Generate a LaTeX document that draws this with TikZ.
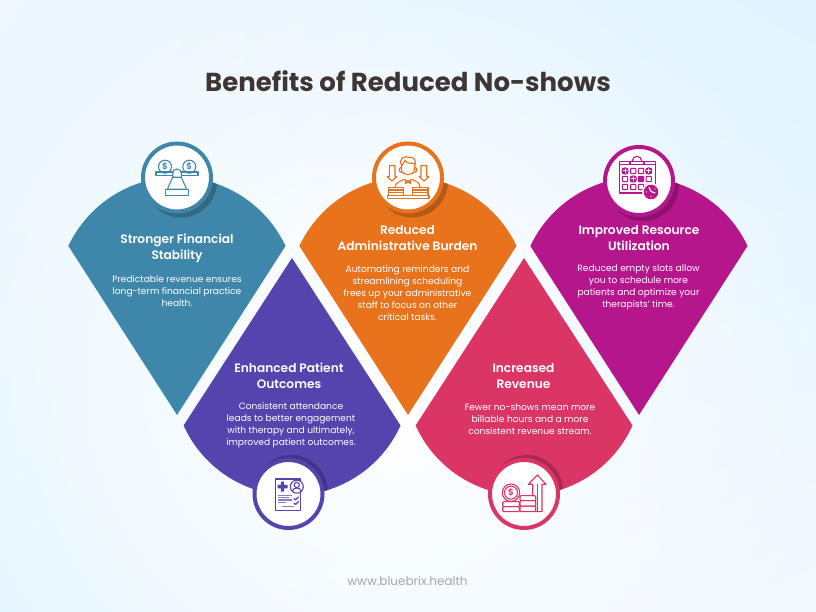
\documentclass[tikz,border=0pt]{standalone}
\usepackage{fontspec}
\usetikzlibrary{shadings,fadings}
\setmainfont{Poppins}[BoldFont={Poppins SemiBold}]
\newfontfamily\titlefont{Poppins}
\definecolor{tealblue}{HTML}{3F86AB}
\definecolor{carrot}{HTML}{E8731C}
\definecolor{indigo}{HTML}{5544AD}
\definecolor{rosered}{HTML}{DB3566}
\definecolor{plum}{HTML}{B6168C}
\definecolor{titlegrey}{HTML}{3F3535}
\definecolor{bgupleft}{HTML}{EEF8FE}
\definecolor{bgupright}{HTML}{DFF3FF}
\definecolor{bglowleft}{HTML}{E5F6FF}
\definecolor{bglowright}{HTML}{F3FAFF}
\tikzfading[name=softglow,inner color=transparent!0,outer color=transparent!100]
\newcommand{\toppetal}[1]{(#1,197) -- ++(108.5,169) arc[start angle=25.2,end angle=154.8,radius=120] -- cycle}
\newcommand{\lowpetal}[1]{(#1,354) -- ++(108.5,-167.5) arc[start angle=-24.3,end angle=-155.7,radius=119] -- cycle}
\tikzset{
  petalhead/.style={text=white,align=center,font=\bfseries\fontsize{12.2}{16}\selectfont},
  petalbody/.style={text=white,align=center,font=\fontsize{9.1}{12}\selectfont},
  badge/.style={circle,draw=#1,fill=white,line width=4pt,minimum size=68pt,inner sep=0pt},
  iconline/.style={line width=1.1pt,line join=round,line cap=round},
  coinmark/.style={inner sep=0pt,font=\bfseries\fontsize{8.8}{9}\selectfont}
}
\begin{document}
\begin{tikzpicture}[x=1pt,y=1pt]
  \useasboundingbox (0,0) rectangle (816,612);
  \shade[upper left=bgupleft,upper right=bgupright,lower left=bglowleft,lower right=bglowright] (0,0) rectangle (816,612);
  \fill[white,path fading=softglow] (380,230) circle[radius=470];

  \node[text=titlegrey,font=\titlefont\bfseries\fontsize{26}{30}\selectfont] (title) at (408,531) {Benefits of Reduced No-shows};
  \node[text=black!35,font=\fontsize{12}{14}\selectfont] (site) at (407.5,31) {www.bluebrix.health};

  % petals
  \fill[tealblue] \toppetal{177};
  \fill[carrot] \toppetal{408};
  \fill[plum] \toppetal{639};
  \fill[indigo] \lowpetal{292};
  \fill[rosered] \lowpetal{524};

  % shadows under the badges
  \begin{scope}
    \clip \toppetal{177};
    \fill[tealblue!78!black] (181,430.5) circle[radius=36];
  \end{scope}
  \begin{scope}
    \clip \toppetal{408};
    \fill[carrot!78!black] (412,430.5) circle[radius=36];
  \end{scope}
  \begin{scope}
    \clip \toppetal{639};
    \fill[plum!78!black] (643,427) circle[radius=36];
  \end{scope}
  \begin{scope}
    \clip \lowpetal{292};
    \fill[indigo!78!black] (291.5,121) circle[radius=36];
  \end{scope}
  \begin{scope}
    \clip \lowpetal{524};
    \fill[rosered!78!black] (527,121) circle[radius=36];
  \end{scope}

  % badges
  \node[badge=tealblue] (scalebadge) at (177,434.5) {};
  \node[badge=carrot] (staffbadge) at (408,434.5) {};
  \node[badge=plum] (calendarbadge) at (639,431) {};
  \node[badge=indigo] (chartbadge) at (288.5,118) {};
  \node[badge=rosered] (moneybadge) at (524,118) {};

  % texts
  \node[petalhead] (stabilityhead) at (177,363.2) {Stronger Financial\\Stability};
  \node[petalbody] (stabilitybody) at (177,321) {Predictable revenue ensures\\long-term financial practice\\health.};
  \node[petalhead] (burdenhead) at (407.5,374) {Reduced\\Administrative Burden};
  \node[petalbody] (burdenbody) at (407.5,319) {Automating reminders and\\streamlining scheduling\\frees up your administrative\\staff to focus on other\\critical tasks.};
  \node[petalhead] (resourcehead) at (639,374) {Improved Resource\\Utilization};
  \node[petalbody] (resourcebody) at (638.5,325) {Reduced empty slots allow\\you to schedule more\\patients and optimize your\\therapists' time.};
  \node[petalhead] (outcomehead) at (289,236) {Enhanced Patient\\Outcomes};
  \node[petalbody] (outcomebody) at (291,187) {Consistent attendance\\leads to better engagement\\with therapy and ultimately,\\improved patient outcomes.};
  \node[petalhead] (revenuehead) at (523.5,236) {Increased\\Revenue};
  \node[petalbody] (revenuebody) at (530,193) {Fewer no-shows mean more\\billable hours and a more\\consistent revenue stream.};

  % scale icon
  \begin{scope}[shift={(177,434.5)},draw=tealblue,text=tealblue,iconline]
    \draw (-12,10.8) circle[radius=6.5];
    \draw (12.3,10.8) circle[radius=6.5];
    \node[coinmark] (leftcoin) at (-12,10.8) {\$};
    \node[coinmark] (rightcoin) at (12.3,10.8) {\$};
    \draw (-21,1.8) rectangle (21,5.5);
    \draw[fill=white] (-4.3,0.2) -- (-4.3,4.2) arc[start angle=180,end angle=0,radius=4.3] -- (4.3,0.2) -- cycle;
    \draw (-4.3,0.2) -- (-9.7,-11.8) -- (9.7,-11.8) -- (4.3,0.2);
    \draw (-11.7,-18.2) rectangle (11.7,-11.8);
  \end{scope}

  % staff icon
  \begin{scope}[shift={(408,434.5)},draw=carrot,iconline]
    \draw (-18.7,12) -- (-13,12) -- (-13,1) -- (-11,1) -- (-16,-3.5) -- (-21,1) -- (-18.7,1) -- cycle;
    \draw (13,12) -- (18.7,12) -- (18.7,1) -- (21,1) -- (16,-3.5) -- (11,1) -- (13,1) -- cycle;
    \draw (-6.5,8) .. controls (-6,1) and (6,1) .. (6.5,8) -- (6.5,14) .. controls (3,14) and (-1,14) .. (-3,17) .. controls (-4,14) and (-6,13) .. (-6.5,11) -- cycle;
    \draw (-6.5,12) .. controls (-10,20) and (-2,22) .. (1,20) .. controls (6,21) and (9,17) .. (6.5,11);
    \draw (-7,10) -- (-8.5,9) -- (-8.5,6) -- (-6.5,5);
    \draw (7,10) -- (8.5,9) -- (8.5,6) -- (6.5,5);
    \draw (-13,-9.7) .. controls (-13,-5) and (-8,-4) .. (-4,-2) -- (0,-4) -- (4,-2) .. controls (8,-4) and (12,-5) .. (12,-9.7);
    \draw (-2.5,-2.5) -- (0,-4.5) -- (2.5,-2.5) -- (2.5,-6) -- (0,-4.5) -- (-2.5,-6) -- cycle;
    \draw (-19.7,-9.7) rectangle (-4.7,-18);
    \draw (-19.7,-12.5) -- (-4.7,-12.5);
    \draw (-19.7,-15.2) -- (-4.7,-15.2);
    \draw (4.7,-9.7) rectangle (20,-18);
    \draw (4.7,-12.5) -- (20,-12.5);
    \draw (4.7,-15.2) -- (20,-15.2);
    \draw (-20.7,-18) rectangle (21,-21);
  \end{scope}

  % calendar icon
  \begin{scope}[shift={(639,431)},draw=plum,iconline]
    \draw (-19.7,19.7) rectangle (16.3,-12);
    \draw (-19.7,16.5) -- (16.3,16.5);
    \draw[fill=white] (-9,16.3) rectangle (5,19.7);
    \draw (-7,19.7) -- (-5,23.5) .. controls (-3,25) and (-1,25) .. (1,23.5) -- (3,19.7);
    \foreach \cellx in {-14,-5.7,2,9.7}
      \foreach \celly in {10,2,-6}
        \draw[rounded corners=0.6pt] (\cellx-2.6,\celly-2.6) rectangle (\cellx+2.6,\celly+2.6);
    \foreach \cellx/\celly in {-14/10,9.7/10,-5.7/2}
      {
        \fill[plum] (\cellx,\celly) circle[radius=3.6];
        \draw[white,line width=1pt] (\cellx-2,\celly) -- (\cellx+2,\celly) (\cellx,\celly-2) -- (\cellx,\celly+2);
      }
    \fill[plum] (2,2) circle[radius=2.6];
    \fill[white] (12,-11) circle[radius=9];
    \fill[plum] (12,-11) circle[radius=7.3];
    \draw[white] (10,-6.5) -- (12,-10.5) -- (16,-12);
    \fill[white] (7.5,-11) circle[radius=0.7] (12,-15.5) circle[radius=0.7] (16,-8) circle[radius=0.7];
  \end{scope}

  % chart icon
  \begin{scope}[shift={(288.5,118)},draw=indigo,iconline]
    \draw (-13,15) rectangle (11.7,-16.7);
    \fill[indigo] (-11,5.6) rectangle (-1,9) (-7.7,2.3) rectangle (-4.3,12.3);
    \draw[fill=white] (8.3,7.3) circle[radius=6.5];
    \draw (8.3,9) circle[radius=2.6];
    \draw (4,3) .. controls (4.5,7) and (12,7) .. (12.6,3);
    \draw[line width=1.1pt,indigo!70] (-10,-1.7) -- (3.3,-1.7) (-10,-3.7) -- (0,-3.7) (-10,-6) -- (3.3,-6) (-10,-8.7) -- (-3,-8.7) (-6,-12.7) -- (5,-12.7);
    \draw (5.5,-4.5) -- (7,-6) -- (10,-3);
    \draw (5.5,-9) -- (7,-10.5) -- (10,-7.5);
  \end{scope}

  % money icon
  \begin{scope}[shift={(524,118)},draw=rosered,text=rosered,iconline]
    \draw (-13,1.3) circle[radius=8.7];
    \draw (-13,1.3) circle[radius=6.5];
    \node[coinmark] (moneycoin) at (-13,1.3) {\$};
    \draw[rounded corners=1pt] (-21.3,-7.7) rectangle (-4.7,-12.7);
    \draw[rounded corners=1pt] (-21.3,-12.7) rectangle (-4.7,-17.7);
    \draw[rounded corners=1pt] (-4,-1.7) rectangle (11.7,-6.7);
    \draw[rounded corners=1pt] (-4,-6.7) rectangle (11.7,-12.2);
    \draw[rounded corners=1pt] (-4,-12.2) rectangle (11.7,-17.7);
    \draw (8.7,-1.7) -- (8.7,9.7) -- (4.3,9.7) -- (13.3,19) -- (22,9.7) -- (18,9.7) -- (18,-17.7) -- (11.7,-17.7);
    \draw (13.3,-17.7) -- (13.3,9.7);
  \end{scope}
\end{tikzpicture}
\end{document}
